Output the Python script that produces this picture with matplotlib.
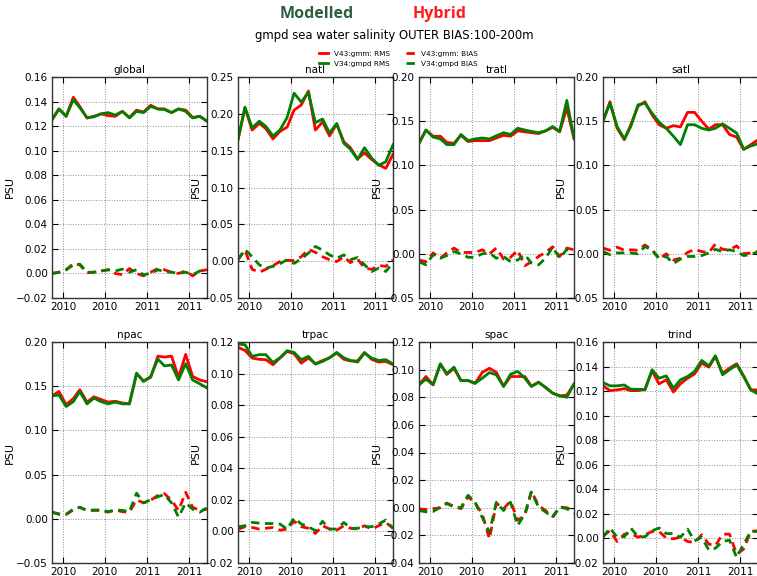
import matplotlib
matplotlib.use("Agg")
import matplotlib.pyplot as plt
import numpy as np
import pandas as pd

# Monthly mid-month analysis times, Nov 2009 - Sep 2011
months = pd.date_range("2009-11-01", "2011-09-01", freq="MS") + pd.Timedelta(days=14)
tick_dates = pd.to_datetime(["2010-01-01", "2010-07-01", "2011-01-01", "2011-07-01"])
tick_labels = ["2010", "2010", "2011", "2011"]

regions = ["global", "natl", "tratl", "satl", "npac", "trpac", "spac", "trind"]

# RMS and mean bias (PSU) for the hybrid run (V43:gmm) and modelled run (V34:gmpd)
rms_v43 = {
    "global": [0.125, 0.134, 0.128, 0.1435, 0.136, 0.1265, 0.128, 0.130, 0.1285, 0.128, 0.132, 0.127,
               0.133, 0.1315, 0.137, 0.134, 0.134, 0.131, 0.134, 0.133, 0.127, 0.128, 0.124],
    "natl": [0.165, 0.208, 0.178, 0.187, 0.180, 0.166, 0.176, 0.182, 0.205, 0.212, 0.231, 0.178,
             0.189, 0.170, 0.186, 0.162, 0.154, 0.139, 0.147, 0.138, 0.131, 0.126, 0.145],
    "tratl": [0.125, 0.140, 0.133, 0.133, 0.126, 0.125, 0.134, 0.127, 0.128, 0.128, 0.128, 0.131,
              0.134, 0.133, 0.139, 0.138, 0.137, 0.136, 0.139, 0.143, 0.138, 0.165, 0.130],
    "satl": [0.150, 0.172, 0.142, 0.129, 0.146, 0.167, 0.172, 0.157, 0.146, 0.142, 0.145, 0.1435,
             0.160, 0.160, 0.150, 0.141, 0.146, 0.146, 0.135, 0.132, 0.118, 0.1235, 0.129],
    "npac": [0.139, 0.144, 0.129, 0.136, 0.146, 0.132, 0.138, 0.135, 0.132, 0.133, 0.131, 0.130,
             0.164, 0.156, 0.160, 0.184, 0.183, 0.184, 0.160, 0.186, 0.161, 0.157, 0.155],
    "trpac": [0.1166, 0.1147, 0.1098, 0.109, 0.1088, 0.1056, 0.1098, 0.114, 0.1126, 0.1066, 0.1098, 0.1062,
              0.1083, 0.110, 0.113, 0.109, 0.108, 0.108, 0.1134, 0.109, 0.1073, 0.1077, 0.1056],
    "spac": [0.089, 0.095, 0.089, 0.104, 0.0965, 0.101, 0.092, 0.092, 0.090, 0.098, 0.101, 0.098,
             0.088, 0.095, 0.095, 0.095, 0.088, 0.091, 0.087, 0.083, 0.081, 0.0815, 0.0895],
    "trind": [0.1243, 0.1204, 0.121, 0.122, 0.1204, 0.1204, 0.1215, 0.1365, 0.1259, 0.1292, 0.1193, 0.1259,
              0.1305, 0.134, 0.1428, 0.1395, 0.1483, 0.1346, 0.1387, 0.1423, 0.1324, 0.121, 0.121],
}
rms_v34 = {
    "global": [0.1253, 0.134, 0.128, 0.1415, 0.135, 0.127, 0.1275, 0.130, 0.131, 0.129, 0.132, 0.1267,
               0.132, 0.131, 0.136, 0.134, 0.1335, 0.131, 0.134, 0.132, 0.1267, 0.128, 0.124],
    "natl": [0.165, 0.209, 0.181, 0.190, 0.183, 0.170, 0.178, 0.195, 0.228, 0.216, 0.229, 0.188,
             0.193, 0.174, 0.187, 0.160, 0.152, 0.138, 0.154, 0.140, 0.130, 0.135, 0.158],
    "tratl": [0.125, 0.140, 0.132, 0.130, 0.1235, 0.1235, 0.135, 0.128, 0.130, 0.131, 0.130, 0.1335,
              0.137, 0.135, 0.142, 0.140, 0.1385, 0.137, 0.139, 0.144, 0.1385, 0.1735, 0.131],
    "satl": [0.150, 0.1705, 0.144, 0.130, 0.144, 0.1685, 0.1705, 0.159, 0.149, 0.142, 0.133, 0.1235,
             0.146, 0.146, 0.142, 0.140, 0.142, 0.147, 0.142, 0.1365, 0.1185, 0.122, 0.1245],
    "npac": [0.139, 0.140, 0.127, 0.1325, 0.144, 0.130, 0.1365, 0.1325, 0.130, 0.132, 0.130, 0.130,
             0.1648, 0.1553, 0.161, 0.1807, 0.173, 0.174, 0.157, 0.1754, 0.157, 0.1527, 0.148],
    "trpac": [0.1187, 0.1183, 0.1109, 0.112, 0.112, 0.107, 0.110, 0.1145, 0.1134, 0.1088, 0.1109, 0.106,
              0.1077, 0.110, 0.1134, 0.110, 0.1083, 0.1073, 0.113, 0.1098, 0.1083, 0.1088, 0.106],
    "spac": [0.089, 0.0931, 0.089, 0.1042, 0.097, 0.1018, 0.0921, 0.0921, 0.0902, 0.0938, 0.0979, 0.0962,
             0.0878, 0.0967, 0.0987, 0.0938, 0.0878, 0.0907, 0.0873, 0.0829, 0.081, 0.080, 0.0897],
    "trind": [0.127, 0.1243, 0.1243, 0.125, 0.1215, 0.1215, 0.121, 0.1374, 0.1305, 0.1324, 0.1223, 0.1292,
              0.1319, 0.136, 0.145, 0.1406, 0.1488, 0.1333, 0.1374, 0.1414, 0.1319, 0.121, 0.1177],
}
bias_v43 = {
    "global": [0.000, 0.001, 0.003, 0.008, 0.007, 0.0005, 0.001, 0.002, 0.003, 0.000, -0.001, 0.004,
               0.000, -0.002, 0.001, 0.004, 0.003, 0.001, 0.000, 0.002, -0.002, 0.002, 0.003],
    "natl": [0.002, 0.015, -0.011, -0.015, -0.011, -0.006, -0.0005, 0.001, 0.001, 0.006, 0.016, 0.012,
             0.006, 0.002, -0.0005, 0.006, -0.002, 0.003, -0.0095, -0.011, -0.006, -0.007, 0.002],
    "tratl": [-0.007, -0.009, 0.001, -0.005, 0.001, 0.0065, 0.0015, 0.0015, 0.0015, 0.0045, 0.000, 0.0065,
              -0.006, -0.004, 0.004, -0.0135, -0.009, -0.003, 0.0015, 0.008, -0.003, 0.0065, 0.0045],
    "satl": [0.0065, 0.004, 0.0075, 0.004, 0.0045, 0.004, 0.010, 0.0045, -0.006, 0.000, -0.007, -0.005,
             0.0015, 0.005, 0.0025, 0.0015, 0.011, 0.005, 0.0045, 0.009, 0.000, 0.001, 0.0025],
    "npac": [0.0075, 0.005, 0.005, 0.010, 0.013, 0.0095, 0.0095, 0.0095, 0.0075, 0.010, 0.008, 0.0075,
             0.0215, 0.018, 0.021, 0.0265, 0.0285, 0.021, 0.0095, 0.030, 0.013, 0.0095, 0.011],
    "trpac": [0.0013, 0.003, 0.0025, 0.0015, 0.002, 0.0025, 0.0008, 0.0015, 0.0064, 0.003, 0.002, -0.0013,
              0.0036, 0.0015, 0.0008, 0.0036, 0.002, 0.0015, 0.0036, 0.0015, 0.0036, 0.0057, 0.002],
    "spac": [-0.0007, -0.0015, -0.0007, 0.000, 0.0034, 0.001, -0.0007, 0.008, 0.0034, -0.0044, -0.0225, 0.0034,
             -0.0007, 0.0048, -0.009, -0.0056, 0.012, 0.0017, -0.002, -0.0063, 0.0005, 0.000, -0.0015],
    "trind": [0.002, 0.0063, -0.0025, 0.0035, 0.004, 0.001, 0.003, 0.0057, 0.0057, 0.0003, -0.0003, 0.001,
              -0.0025, -0.0033, 0.003, -0.0046, -0.006, 0.0035, 0.0035, -0.0128, -0.0087, 0.0057, 0.0063],
}
bias_v34 = {
    "global": [0.000, 0.001, 0.003, 0.007, 0.0075, 0.001, 0.001, 0.002, 0.003, 0.002, 0.0035, 0.001,
               0.003, -0.001, 0.000, 0.003, 0.0015, 0.001, 0.000, 0.001, -0.001, 0.002, 0.003],
    "natl": [0.002, 0.016, 0.006, -0.005, -0.0095, -0.007, -0.0035, 0.002, -0.003, 0.003, 0.011, 0.020,
             0.015, 0.0085, 0.004, 0.0085, 0.002, 0.005, -0.005, -0.014, -0.0095, -0.014, -0.002],
    "tratl": [-0.009, -0.0125, -0.001, -0.005, -0.002, 0.0025, 0.000, -0.004, -0.004, 0.000, 0.001, -0.005,
              -0.003, -0.009, -0.007, -0.001, -0.0105, -0.0125, -0.005, 0.0075, -0.005, 0.005, 0.0025],
    "satl": [0.0025, -0.001, 0.001, 0.001, 0.001, 0.000, 0.008, 0.0045, -0.005, -0.003, -0.011, -0.006,
             -0.003, -0.003, -0.002, 0.001, 0.005, 0.0025, 0.0045, 0.0025, -0.002, -0.001, 0.0025],
    "npac": [0.0075, 0.0057, 0.005, 0.011, 0.013, 0.0095, 0.010, 0.010, 0.008, 0.010, 0.0095, 0.008,
             0.029, 0.018, 0.0215, 0.025, 0.0275, 0.018, 0.002, 0.018, 0.011, 0.0075, 0.0125],
    "trpac": [0.003, 0.0036, 0.0057, 0.0053, 0.005, 0.005, 0.0047, 0.0015, 0.0085, 0.0047, 0.003, 0.0004,
              0.0064, 0.0015, 0.0015, 0.0057, 0.002, 0.002, 0.003, 0.003, 0.0047, 0.0072, 0.002],
    "spac": [-0.002, -0.003, -0.0027, 0.0005, 0.003, 0.0005, 0.000, 0.009, 0.004, -0.007, -0.0177, 0.004,
             -0.002, 0.004, -0.0128, -0.0044, 0.0114, 0.0005, -0.003, -0.007, 0.0005, -0.0007, -0.004],
    "trind": [0.001, 0.0085, 0.001, 0.0014, 0.0085, 0.0014, 0.0014, 0.0063, 0.0085, 0.004, 0.004, 0.001,
              0.0076, -0.002, 0.001, -0.0095, -0.008, -0.0025, -0.0014, -0.0155, -0.0046, 0.0057, 0.0057],
}

# y-axis range and tick step per region
y_ranges = {
    "global": (-0.02, 0.16, 0.02), "natl": (-0.05, 0.25, 0.05),
    "tratl": (-0.05, 0.20, 0.05), "satl": (-0.05, 0.20, 0.05),
    "npac": (-0.05, 0.20, 0.05), "trpac": (-0.02, 0.12, 0.02),
    "spac": (-0.04, 0.12, 0.02), "trind": (-0.02, 0.16, 0.02),
}

plt.rcParams.update({
    "font.family": ["DejaVu Sans"],
    "xtick.direction": "in", "ytick.direction": "in",
    "xtick.top": True, "ytick.right": True,
    "xtick.major.size": 4, "ytick.major.size": 4,
    "axes.linewidth": 1.0,
})

W, H = 757, 576
fig = plt.figure(figsize=(W / 100, H / 100), dpi=100)

lefts = [52, 238, 419, 603]
tops = [77, 342]
pw, ph = 155, 221

dash = (0, (3, 2))
lines = []
for k, reg in enumerate(regions):
    r, c = divmod(k, 4)
    x0 = lefts[c] / W
    y0 = 1 - (tops[r] + ph) / H
    ax = fig.add_axes([x0, y0, pw / W, ph / H])
    l1, = ax.plot(months, rms_v43[reg], color="#ff0000", lw=2.0, label="V43:gmm: RMS")
    l2, = ax.plot(months, rms_v34[reg], color="#008000", lw=2.0, label="V34:gmpd RMS")
    l3, = ax.plot(months, bias_v43[reg], color="#ff0000", lw=2.0, ls=dash, label="V43:gmm: BIAS")
    l4, = ax.plot(months, bias_v34[reg], color="#008000", lw=2.0, ls=dash, label="V34:gmpd BIAS")
    lines = [l1, l2, l3, l4]
    lo, hi, step = y_ranges[reg]
    ax.set_ylim(lo, hi)
    ax.set_yticks(np.arange(lo, hi + step / 2, step))
    ax.set_xlim(months[0], months[-1])
    ax.set_xticks(tick_dates, tick_labels)
    ax.tick_params(labelsize=7.5, pad=3)
    ax.grid(True, color="0.55", ls=":", lw=0.7)
    ax.set_title(reg, fontsize=7.5, pad=3)
    ax.set_ylabel("PSU", fontsize=8, labelpad=1)
    for s in ax.spines.values():
        s.set_color("0.2")

fig.legend(lines, [l.get_label() for l in lines], ncol=2, loc="center",
           bbox_to_anchor=(0.526, 0.898), frameon=False, fontsize=5.2,
           handlelength=1.3, columnspacing=2.2, handletextpad=0.8, labelspacing=0.6)

fig.text(317 / W, 1 - 14 / H, "Modelled", color="#2e5e42", fontsize=11.5,
         fontweight="bold", ha="center", va="center", family="Open Sans")
fig.text(440 / W, 1 - 14 / H, "Hybrid", color="#ff1a1a", fontsize=11.5,
         fontweight="bold", ha="center", va="center", family="Open Sans")
fig.text(394 / W, 1 - 35 / H, "gmpd sea water salinity OUTER BIAS:100-200m",
         fontsize=8.4, ha="center", va="center")

fig.savefig("out.png", dpi=100)
